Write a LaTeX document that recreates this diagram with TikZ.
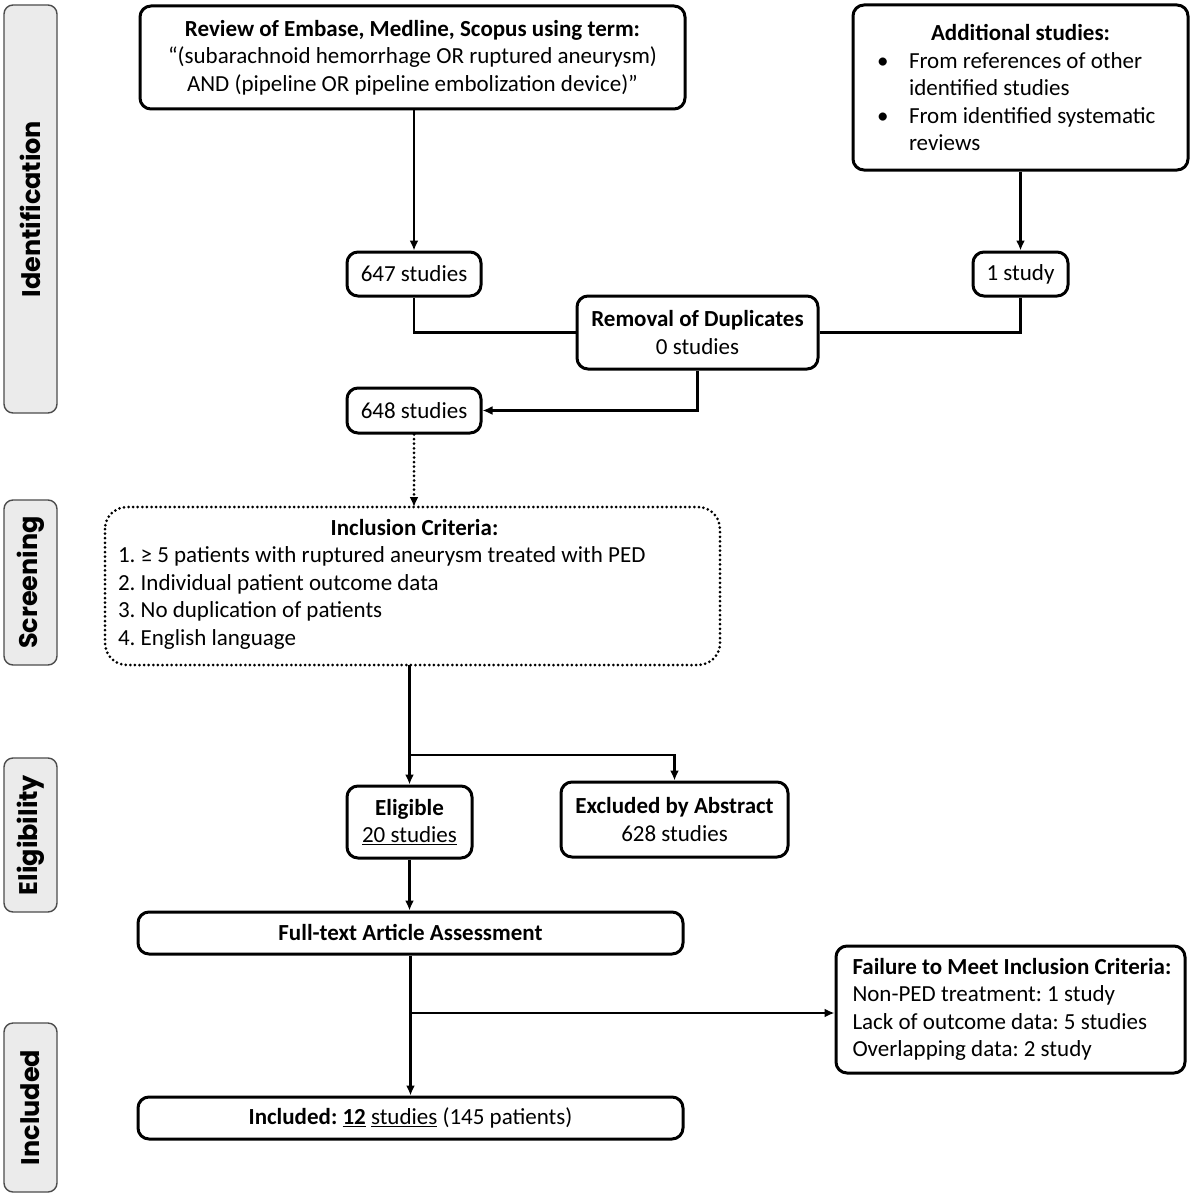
\documentclass[tikz,border=0pt]{standalone}
\usepackage{fontspec}
\setmainfont{Carlito}
\newfontfamily\sidefont{Poppins}
\usetikzlibrary{arrows.meta}
\newcommand{\bx}{\rule[-1pt]{0pt}{17pt}}
\newcommand{\ind}{\hspace*{7pt}}
\begin{document}
\begin{tikzpicture}[x=1pt,y=-1pt,
  every node/.style={font=\fontsize{23}{27.5}\selectfont\frenchspacing, inner sep=0pt},
  box/.style={draw, line width=3pt, rounded corners=11pt},
  side/.style={draw=black!70, fill=black!8, line width=1.4pt, rounded corners=9pt,
     minimum width=53pt, font=\sidefont\bfseries\fontsize{25.5}{28}\selectfont},
  ln/.style={line width=2.8pt},
  arr/.style={line width=2.8pt, -{Latex[length=10pt,width=9pt]}},
  dotarr/.style={line width=3pt, dash pattern=on 0pt off 4.6pt, line cap=round, -{Latex[length=10pt,width=9pt]}}
]
\useasboundingbox (0,0) rectangle (1193,1196);

% side labels
\node[side, minimum height=408pt] (sid) at (30.5,209) {\rotatebox{90}{Identification}};
\node[side, minimum height=165pt] (ssc) at (30.5,582.5) {\rotatebox{90}{Screening}};
\node[side, minimum height=154pt] (sel) at (30.5,835) {\rotatebox{90}{Eligibility}};
\node[side, minimum height=169pt] (sin) at (30.5,1107.5) {\rotatebox{90}{Included}};

% boxes
\node[box, minimum width=545pt, minimum height=103pt, align=center] (rev) at (412.5,57.5)
  {\textbf{Review of Embase, Medline, Scopus using term:}\\
   “(subarachnoid hemorrhage OR ruptured aneurysm)\\
   AND (pipeline OR pipeline embolization device)”};

\node[box, minimum width=335pt, minimum height=165pt, text width=289pt, align=flush left] (add) at (1020.5,87.5)
  {\makebox[289pt][c]{\textbf{Additional studies:}}\\
   \makebox[33pt][l]{\hspace{1pt}•}From references of other\\
   \hspace*{33pt}identified studies\\
   \makebox[33pt][l]{\hspace{1pt}•}From identified systematic\\
   \hspace*{33pt}reviews};

\node[box, minimum width=134pt, minimum height=44pt] (s647) at (414,274) {\bx 647 studies};
\node[box, minimum width=95pt, minimum height=44pt] (s1) at (1020.5,274) {\bx 1 study};
\node[box, minimum width=241pt, minimum height=73pt, align=center] (rem) at (697.5,332.5)
  {\textbf{Removal of Duplicates}\\0 studies};
\node[box, minimum width=134pt, minimum height=45pt] (s648) at (414,410.5) {\bx 648 studies};

\node[minimum width=615pt, minimum height=158pt, text width=593pt, align=flush left] (inc) at (414.5,584)
  {\makebox[593pt][c]{\textbf{Inclusion Criteria:}}\\
   1. ≥ 5 patients with ruptured aneurysm treated with PED\\
   2. Individual patient outcome data\\
   3. No duplication of patients\\
   4. English language};
\draw[line width=3pt, dash pattern=on 0pt off 4.6pt, line cap=round, rounded corners=22pt]
  (105,507) rectangle (720,665);

\node[box, minimum width=125pt, minimum height=72pt, align=center] (elig) at (409.5,822)
  {\textbf{Eligible}\\\underline{20 studies}};
\node[box, minimum width=227pt, minimum height=75pt, align=center] (exc) at (674.5,819.5)
  {\textbf{Excluded by Abstract}\\628 studies};
\node[box, minimum width=545pt, minimum height=42pt] (full) at (410.5,933)
  {\bx\textbf{Full-text Article Assessment}};
\node[box, minimum width=349pt, minimum height=127pt, text width=330pt, align=flush left] (fail) at (1010.5,1009.5)
  {\ind\textbf{Failure to Meet Inclusion Criteria:}\\
   \ind Non-PED treatment: 1 study\\
   \ind Lack of outcome data: 5 studies\\
   \ind Overlapping data: 2 study};
\node[box, minimum width=545pt, minimum height=42pt] (incl) at (410.5,1118)
  {\bx\textbf{Included: \underline{12}} \underline{studies} (145 patients)};

% connectors
\draw[arr] (s647 |- rev.south) -- (s647.north);
\draw[arr] (add.south) -- (s1.north);
\draw[ln] (s647.south) |- (rem.west);
\draw[ln] (s1.south) |- (rem.east);
\draw[arr] (rem.south) |- (s648.east);
\draw[dotarr] (s648.south) -- (414,507);
\draw[arr] (409.5,665) -- (elig.north);
\coordinate (br1) at (409.5,755);
\draw[arr] (br1) -| (exc.north);
\draw[arr] (elig.south) -- (elig.south |- full.north);
\draw[arr] (full.south) -- (incl.north);
\coordinate (br2) at (410.5,1013);
\draw[arr] (br2) -- (fail.west |- br2);
\end{tikzpicture}
\end{document}
